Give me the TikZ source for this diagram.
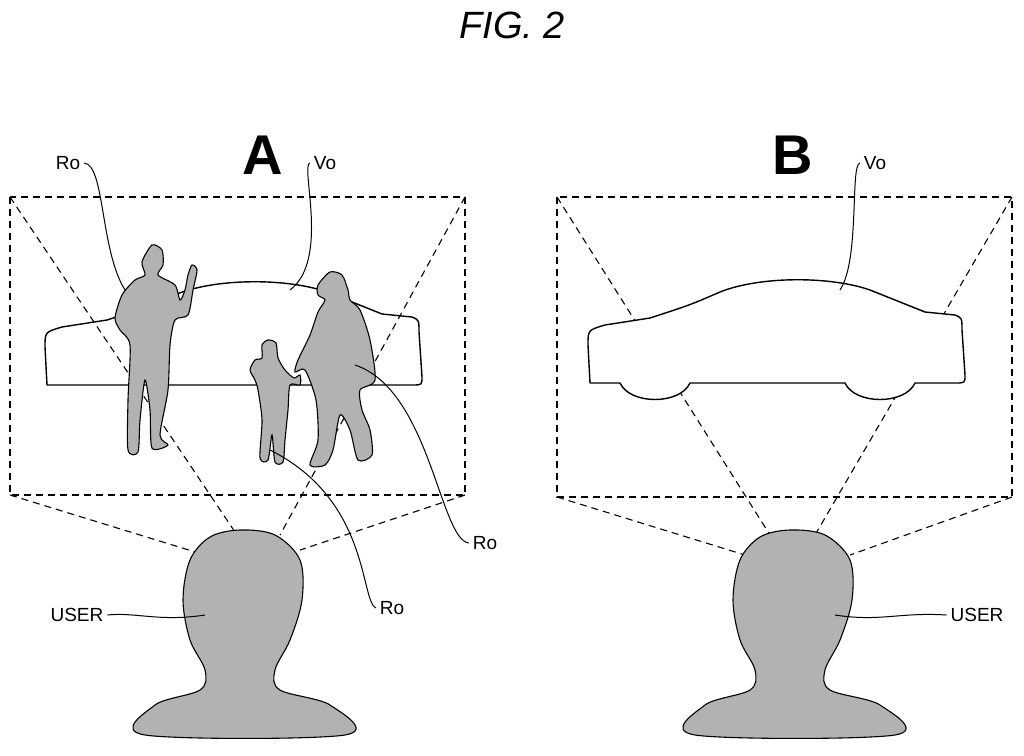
\documentclass[tikz,border=0pt]{standalone}
\usepackage{fontspec}
\setmainfont{Liberation Sans}
\begin{document}
\begin{tikzpicture}[x=1pt,y=-1pt,line width=1.4pt,
  dsh/.style={dash pattern=on 7pt off 5pt,line width=1.1pt},
  fig/.style={fill=gray!60,draw=black,line width=1.1pt},
  lbl/.style={font=\fontsize{19}{19}\selectfont},
  lead/.style={line width=1pt}]
\useasboundingbox (0,0) rectangle (1024,755);
\node[font=\itshape\fontsize{38}{38}\selectfont] (title) at (512,25) {FIG. 2};
\node[font=\bfseries\fontsize{56}{56}\selectfont] (A) at (263,155) {A};
\node[font=\bfseries\fontsize{56}{56}\selectfont] (B) at (793,155) {B};
% frames
\draw[dsh] (10,197) rectangle (465,495);
\draw[dsh] (557,197) rectangle (1012,497);
\draw[dsh] (10,197) -- (237,535) (465,197) -- (280,535) (10,495) -- (205,555) (465,495) -- (300,550);
\draw[dsh] (557,197) -- (770,535) (1012,197) -- (815,535) (557,497) -- (745,555) (1012,497) -- (850,555);
% cars
\def\carA{(590,383) -- (588,345) .. controls (588,330) .. (605,325) -- (650,318) .. controls (690,305) .. (720,292) .. controls (760,276) and (830,276) .. (870,290) .. controls (900,302) .. (925,312) -- (955,315) .. controls (962,318) .. (962,330) -- (965,375) .. controls (965,383) .. (955,383) -- cycle}
\def\car{(590,383) -- (588,345) .. controls (588,330) .. (605,325) -- (650,318) .. controls (690,305) .. (720,292) .. controls (760,276) and (830,276) .. (870,290) .. controls (900,302) .. (925,312) -- (955,315) .. controls (962,318) .. (962,330) -- (965,375) .. controls (965,383) .. (955,383) -- (915,383) .. controls (905,405) and (855,405) .. (845,383) -- (690,383) .. controls (680,405) and (630,405) .. (620,383) -- cycle}
\draw[fill=white,line join=round] \car;
\begin{scope}[xshift=-543pt,yshift=-2pt]
\draw[line join=round] \carA;
\end{scope}
% people
\draw[fig] plot[smooth cycle,tension=0.45] coordinates {(152,245) (162,250) (163,265) (158,275) (175,285) (180,300) (185,290) (188,275) (192,265) (197,270) (193,290) (188,315) (175,320) (170,345) (168,390) (160,435) (168,445) (152,448) (150,410) (145,380) (140,420) (138,452) (128,450) (128,400) (130,345) (120,330) (115,318) (122,295) (135,280) (145,275) (142,262)};
\draw[fig] plot[smooth cycle,tension=0.45] coordinates {(268,340) (276,343) (278,358) (285,370) (294,378) (300,375) (300,385) (290,385) (288,410) (285,440) (283,462) (275,462) (272,435) (268,460) (260,458) (262,420) (258,390) (255,380) (250,370) (255,360) (262,358) (262,345)};
\draw[fig] plot[smooth cycle,tension=0.45] coordinates {(318,285) (330,272) (342,275) (348,290) (350,300) (360,310) (370,340) (375,380) (360,390) (362,410) (370,430) (372,455) (358,460) (350,430) (340,415) (333,450) (325,465) (310,465) (318,440) (316,400) (305,370) (295,372) (298,360) (310,335) (318,312) (325,300) (318,295)};
% heads
\def\head{plot[smooth cycle,tension=0.55] coordinates {(0,530) (35,535) (60,560) (62,600) (50,640) (35,670) (40,690) (90,705) (105,735) (-95,735) (-85,705) (-40,690) (-35,670) (-50,640) (-57,600) (-50,560) (-30,537)}}
\begin{scope}[xshift=240pt]\draw[fig] \head;\end{scope}
\begin{scope}[xshift=790pt]\draw[fig] \head;\end{scope}
% labels
\node[lbl] (ro1) at (68,163) {Ro};
\node[lbl] (vo1) at (325,163) {Vo};
\node[lbl] (ro2) at (485,543) {Ro};
\node[lbl] (ro3) at (392,608) {Ro};
\node[lbl] (us1) at (77,615) {USER};
\node[lbl] (vo2) at (875,163) {Vo};
\node[lbl] (us2) at (977,615) {USER};
\coordinate (p1) at (125,290); \coordinate (p2) at (290,290);
\coordinate (p3) at (355,365); \coordinate (p4) at (270,450);
\coordinate (p5) at (205,615); \coordinate (p6) at (840,290);
\coordinate (p7) at (835,615);
\draw[lead] (ro1.east) .. controls (105,165) and (100,250) .. (p1);
\draw[lead] (vo1.west) .. controls (300,165) and (330,260) .. (p2);
\draw[lead] (ro2.west) .. controls (440,540) and (430,390) .. (p3);
\draw[lead] (ro3.west) .. controls (360,600) and (370,500) .. (p4);
\draw[lead] (us1.east) .. controls (135,612) and (160,622) .. (p5);
\draw[lead] (vo2.west) .. controls (850,165) and (860,260) .. (p6);
\draw[lead] (us2.west) .. controls (900,612) and (880,622) .. (p7);
\end{tikzpicture}
\end{document}
